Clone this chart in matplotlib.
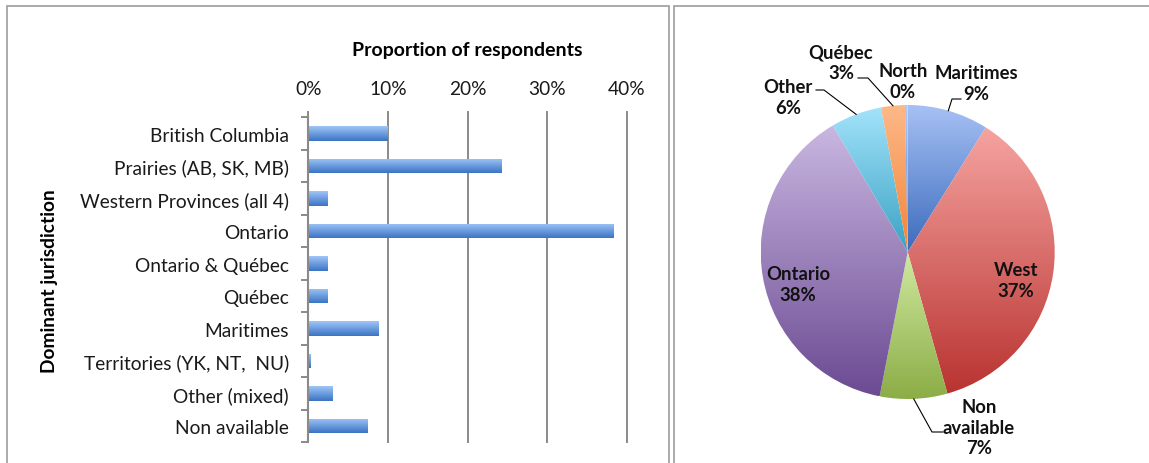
import numpy as np
import matplotlib.pyplot as plt
from matplotlib.colors import LinearSegmentedColormap
from matplotlib.patches import Rectangle

plt.rcParams['font.family'] = ['Lato', 'DejaVu Sans']

# bar chart: share of respondents by dominant jurisdiction
jurisdictions = [
    'British Columbia', 'Prairies (AB, SK, MB)', 'Western Provinces (all 4)',
    'Ontario', 'Ontario & Québec', 'Québec', 'Maritimes',
    'Territories (YK, NT,  NU)', 'Other (mixed)', 'Non available',
]
shares = [0.100, 0.243, 0.024, 0.384, 0.024, 0.024, 0.089, 0.003, 0.031, 0.075]
xticks = [0.0, 0.1, 0.2, 0.3, 0.4]
xtick_labels = ['0%', '10%', '20%', '30%', '40%']

# pie chart: grouped regions
regions = ['Maritimes', 'West', 'Non\navailable', 'Ontario', 'Other', 'Québec', 'North']
region_shares = [8.9, 36.7, 7.4, 38.4, 5.6, 2.6, 0.3]
light = ['#a6c0f4', '#f5a3a0', '#cfe9a0', '#c8b6e0', '#a2e2fa', '#fdb888', '#b0c8f6']
dark = ['#3c6cbd', '#b93431', '#8cad47', '#6c4b93', '#3ba3c4', '#f1863a', '#4a78c4']

W, H = 1149, 464
fig = plt.figure(figsize=(W / 100, H / 100), dpi=100)

# panel frames
frame_kw = dict(transform=fig.transFigure, fill=False, edgecolor='#9c9c9c',
                linewidth=1.2, clip_on=False)
fig.add_artist(Rectangle((7 / W, -0.1), (669 - 7) / W, 1.1 - 7 / H, **frame_kw))
fig.add_artist(Rectangle((674 / W, -0.1), 0.5, 1.1 - 7 / H, **frame_kw))

# ---- bar chart ----
x0, x1, ytop, ybot = 308.3, 626.7, 118.3, 443.3
ax = fig.add_axes([x0 / W, 1 - ybot / H, (x1 - x0) / W, (ybot - ytop) / H])
n = len(jurisdictions)
pos = np.arange(n)[::-1]
bar_h = 0.44
bars = ax.barh(pos, shares, height=bar_h, color='none', linewidth=0, zorder=2)
bar_cmap = LinearSegmentedColormap.from_list('bar', ['#3a74c4', '#a0c5f8'])
grad = np.linspace(1, 0, 64).reshape(-1, 1)
for b in bars:
    bx, by = b.get_x(), b.get_y()
    im = ax.imshow(grad, cmap=bar_cmap, aspect='auto', origin='upper',
                   extent=(bx, bx + b.get_width(), by, by + b.get_height()),
                   zorder=2, interpolation='bilinear')
    im.set_clip_path(b)

ax.set_xlim(0, 0.4)
ax.set_ylim(-0.5, n - 0.5)
ax.set_axisbelow(True)
ax.xaxis.tick_top()
ax.xaxis.set_label_position('top')
ax.set_xticks(xticks, xtick_labels)
ax.grid(axis='x', color='#8a8a8a', linewidth=1.4)
for gl in ax.get_xgridlines():
    gl.set_clip_on(False)
ax.tick_params(axis='x', length=4.5, width=1.4, color='#8a8a8a', pad=10,
               labelsize=13.8, labelcolor='#1a1a1a')
ax.set_yticks(pos, jurisdictions)
ax.tick_params(axis='y', which='major', length=0, pad=14, labelsize=13.8,
               labelcolor='#1a1a1a')
ax.set_yticks(np.arange(-0.5, n), minor=True)
ax.tick_params(axis='y', which='minor', length=5, width=1.4, color='#8a8a8a')
for side in ['top', 'right', 'bottom']:
    ax.spines[side].set_visible(False)
ax.spines['left'].set_color('#8a8a8a')
ax.spines['left'].set_linewidth(1.5)
ax.set_xlabel('Proportion of respondents', fontsize=14, fontweight='bold',
              labelpad=18)
ax.set_ylabel('Dominant jurisdiction', fontsize=13.8, fontweight='bold')
ax.yaxis.set_label_coords((58 - x0) / (x1 - x0), 0.5)

# ---- pie chart ----
cx, cy, R = 907.7, 253.0, 147.0
k = 1.6
side = 2 * k * R
pax = fig.add_axes([(cx - side / 2) / W, 1 - (cy + side / 2) / H, side / W, side / H])
wedges, _ = pax.pie(region_shares, startangle=90, counterclock=False,
                    wedgeprops=dict(facecolor='none', linewidth=0))
total = sum(region_shares)
for w, lo, hi in zip(wedges, light, dark):
    cmap = LinearSegmentedColormap.from_list('w', [hi, lo])
    ext = w.get_path().get_extents()
    im = pax.imshow(grad, cmap=cmap, aspect='auto', origin='upper',
                    extent=(ext.x0, ext.x1, ext.y0, ext.y1),
                    interpolation='bilinear')
    im.set_clip_path(w)


def px(x, y):
    return (x - cx) / R, -(y - cy) / R


def edge_point(w):
    a = np.deg2rad((w.theta1 + w.theta2) / 2)
    return np.cos(a), np.sin(a)


label_xy = {
    'Maritimes': (976, 84), 'West': (1016, 281), 'Non\navailable': (979, 428),
    'Ontario': (798, 285), 'Other': (788, 98), 'Québec': (841, 63),
    'North': (903, 82),
}
for name, w, v in zip(regions, wedges, region_shares):
    tx, ty = px(*label_xy[name])
    pax.text(tx, ty, f'{name}\n{v / total * 100:.0f}%', ha='center', va='center',
             fontsize=13.3, fontweight='bold', linespacing=1.25, color='#111111')

# leader lines from wedges to their outside labels
leaders = {
    'Maritimes': [(952, 100), (961, 100)],
    'Non\navailable': [(932, 433), (943, 433)],
    'Other': [(824, 91), (816, 91)],
    'Québec': [(868, 79), (858, 79)],
}
for name, w in zip(regions, wedges):
    if name not in leaders:
        continue
    ex, ey = edge_point(w)
    pts = [(ex, ey)] + [px(*p) for p in leaders[name]]
    pax.plot([p[0] for p in pts], [p[1] for p in pts], color='black', linewidth=0.8)

pax.set_xlim(-k, k)
pax.set_ylim(-k, k)
pax.set_aspect('equal')
pax.axis('off')

fig.savefig('out.png', dpi=100)
